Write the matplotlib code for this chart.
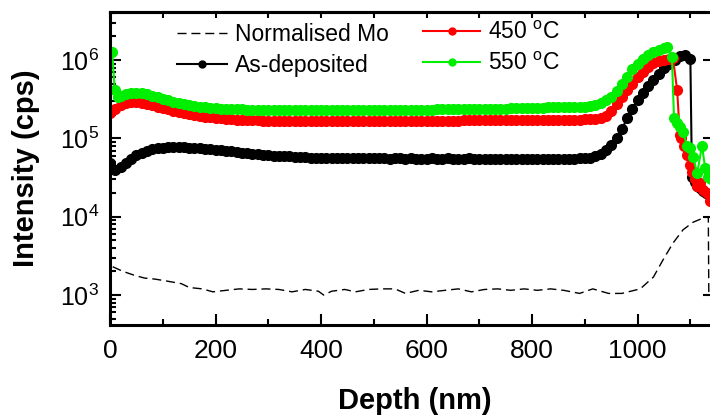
import matplotlib
matplotlib.use('Agg')
import matplotlib.pyplot as plt
from matplotlib.lines import Line2D
from matplotlib.ticker import LogLocator, LogFormatterMathtext, MultipleLocator, NullFormatter, NullLocator

plt.rcParams['font.family'] = ['Liberation Sans', 'DejaVu Sans']
plt.rcParams['mathtext.fontset'] = 'custom'
plt.rcParams['mathtext.rm'] = 'Liberation Sans'
plt.rcParams['mathtext.default'] = 'regular'

# depth grid (nm) for the dense marker series
depth_as = list(range(0, 1101, 10)) + [1103, 1108, 1113, 1118, 1124, 1130, 1136]
as_dep = [  # x 1e4 cps
    4.8, 4.0, 4.3, 4.8, 5.4, 6.1, 6.6, 7.0, 7.3, 7.5,
    7.6, 7.7, 7.7, 7.7, 7.7, 7.6, 7.6, 7.5, 7.4, 7.3,
    7.2, 7.1, 7.0, 6.9, 6.7, 6.6, 6.5, 6.4, 6.3, 6.2,
    6.1, 6.0, 6.0, 5.9, 5.9, 5.8, 5.8, 5.8, 5.7, 5.7,
    5.7, 5.7, 5.7, 5.6, 5.6, 5.7, 5.6, 5.6, 5.6, 5.6,
    5.6, 5.6, 5.6, 5.5, 5.6, 5.6, 5.5, 5.6, 5.5, 5.5,
    5.5, 5.6, 5.5, 5.5, 5.6, 5.5, 5.5, 5.5, 5.6, 5.5,
    5.5, 5.5, 5.4, 5.5, 5.5, 5.5, 5.4, 5.5, 5.5, 5.5,
    5.5, 5.5, 5.5, 5.4, 5.5, 5.5, 5.5, 5.5, 5.5, 5.6,
    5.6, 5.7, 5.9, 6.3, 7.1, 8.3, 10, 13, 18, 24,
    31, 38, 46, 56, 67, 79, 90, 101, 112, 116,
    104,
    3.2, 2.8, 2.5, 2.3, 2.1, 2.0, 1.9,
]

depth_450 = list(range(0, 1061, 10)) + [1067, 1075, 1080, 1083, 1088, 1094, 1100,
                                        1103, 1108, 1113, 1118, 1124, 1132, 1138]
t450 = [  # x 1e5 cps
    2.1, 2.4, 2.65, 2.8, 2.9, 2.9, 2.85, 2.75, 2.65, 2.55,
    2.45, 2.35, 2.25, 2.15, 2.1, 2.05, 2.0, 1.95, 1.9, 1.87,
    1.84, 1.81, 1.78, 1.76, 1.74, 1.72, 1.71, 1.70, 1.70, 1.69,
    1.69, 1.68, 1.68, 1.68, 1.68, 1.67, 1.67, 1.67, 1.67, 1.67,
    1.67, 1.67, 1.67, 1.67, 1.67, 1.67, 1.67, 1.67, 1.68, 1.68,
    1.68, 1.68, 1.68, 1.68, 1.68, 1.68, 1.68, 1.68, 1.68, 1.69,
    1.69, 1.69, 1.69, 1.69, 1.69, 1.69, 1.69, 1.70, 1.70, 1.70,
    1.70, 1.70, 1.70, 1.70, 1.70, 1.70, 1.71, 1.71, 1.71, 1.71,
    1.71, 1.71, 1.72, 1.72, 1.72, 1.72, 1.73, 1.73, 1.73, 1.74,
    1.75, 1.76, 1.78, 1.82, 1.95, 2.25, 2.75, 3.35, 4.1, 5.0,
    6.0, 7.0, 8.1, 9.1, 9.7, 10.0, 10.3,
    10.6, 4.1, 1.1, 1.0, 0.8, 0.62, 0.46,
    0.37, 0.30, 0.25, 0.27, 0.22, 0.20, 0.16,
]

depth_550 = [4, 9, 15] + list(range(20, 1051, 10)) + [1056, 1065, 1069, 1075, 1080, 1086, 1094,
                                                      1100, 1105, 1113, 1122, 1128, 1134, 1139]
t550 = [  # x 1e5 cps
    12.5, 4.1, 3.4,
    3.5, 3.7, 3.8, 3.8, 3.75, 3.65, 3.5, 3.35,
    3.2, 3.05, 2.95, 2.85, 2.75, 2.65, 2.6, 2.55, 2.5, 2.45,
    2.42, 2.4, 2.38, 2.36, 2.35, 2.34, 2.33, 2.32, 2.32, 2.31,
    2.31, 2.30, 2.30, 2.30, 2.30, 2.30, 2.30, 2.30, 2.30, 2.30,
    2.30, 2.30, 2.30, 2.30, 2.30, 2.30, 2.30, 2.30, 2.31, 2.31,
    2.31, 2.31, 2.31, 2.31, 2.32, 2.32, 2.32, 2.32, 2.33, 2.33,
    2.33, 2.33, 2.34, 2.34, 2.34, 2.35, 2.35, 2.35, 2.36, 2.36,
    2.37, 2.37, 2.38, 2.38, 2.39, 2.40, 2.41, 2.42, 2.43, 2.44,
    2.45, 2.46, 2.47, 2.48, 2.49, 2.50, 2.50, 2.51, 2.51, 2.52,
    2.52, 2.58, 2.66, 2.8, 3.05, 3.4, 4.0, 4.9, 6.1, 7.6,
    9.0, 10.4, 11.7, 12.7, 13.6, 14.3,
    14.7, 11.0, 1.8, 1.55, 1.4, 1.2, 0.81,
    0.76, 0.58, 0.36, 0.81, 0.42, 0.32, 0.30,
]

depth_mo = [5, 25, 45, 65, 85, 110, 135, 150, 175, 195, 220, 245, 270, 295, 320, 345,
            370, 395, 405, 420, 445, 465, 490, 515, 540, 560, 585, 610, 635, 660, 685,
            710, 735, 760, 785, 810, 835, 860, 890, 915, 945, 970, 1005, 1030, 1048,
            1067, 1086, 1105, 1124, 1134, 1135]
mo_norm = [2.3, 2.0, 1.8, 1.65, 1.6, 1.5, 1.4, 1.25, 1.2, 1.1, 1.15, 1.2, 1.18, 1.2,
           1.18, 1.1, 1.18, 1.12, 1.0, 1.12, 1.18, 1.1, 1.18, 1.2, 1.2, 1.05, 1.15, 1.1,
           1.15, 1.2, 1.1, 1.18, 1.2, 1.15, 1.2, 1.15, 1.2, 1.15, 1.05, 1.2, 1.05, 1.05,
           1.2, 1.7, 2.8, 4.6, 6.8, 8.5, 9.6, 10.0, 0.95]  # x 1e3 cps

fig = plt.figure(figsize=(7.1, 4.17), dpi=100)
ax = fig.add_axes([0.155, 0.2206, 0.8493, 0.7506])

dash = (0, (6.5, 3.5))
ax.plot(depth_mo, [v * 1e3 for v in mo_norm], color='black', lw=1.0, ls=dash)
ax.plot(depth_as, [v * 1e4 for v in as_dep], color='black', lw=1.5, marker='o', ms=7)
ax.plot(depth_450, [v * 1e5 for v in t450], color='#ff0000', lw=1.5, marker='o', ms=7)
ax.plot(depth_550, [v * 1e5 for v in t550], color='#00ee00', lw=1.5, marker='o', ms=7)

ax.set_yscale('log')
ax.set_xlim(0, 1143)
ax.set_ylim(415, 4.1e6)

ax.xaxis.set_major_locator(MultipleLocator(200))
ax.xaxis.set_minor_locator(MultipleLocator(100))
ax.yaxis.set_major_locator(LogLocator(base=10, numticks=10))
ax.yaxis.set_minor_locator(LogLocator(base=10, subs=range(2, 10), numticks=10))
ax.yaxis.set_major_formatter(LogFormatterMathtext())
ax.yaxis.set_minor_formatter(NullFormatter())

ax.tick_params(which='both', direction='in', top=False, right=False, width=1.5)
ax.tick_params(which='major', length=8)
ax.tick_params(which='minor', length=4)
ax.tick_params(axis='x', which='major', labelsize=19, pad=10)
ax.tick_params(axis='y', which='major', labelsize=18, pad=8)
for s in ax.spines.values():
    s.set_linewidth(2.2)

# short ticks on top, decade ticks on the right
top = ax.secondary_xaxis('top')
top.xaxis.set_major_locator(MultipleLocator(100))
top.tick_params(direction='in', length=4, width=1.5, labeltop=False)
right = ax.secondary_yaxis('right')
right.yaxis.set_major_locator(LogLocator(base=10, numticks=10))
right.yaxis.set_minor_locator(NullLocator())
right.tick_params(direction='in', length=7, width=1.5, labelright=False)
top.spines['top'].set_linewidth(2.2)
right.spines['right'].set_linewidth(2.2)

fig.text(415 / 710, 1 - 401 / 417, 'Depth (nm)', fontsize=21, fontweight='bold',
         ha='center', va='center')
fig.text(26 / 710, 1 - 168 / 417, 'Intensity (cps)', fontsize=21, fontweight='bold',
         ha='center', va='center', rotation=90)

h_mo = Line2D([], [], color='black', lw=1.0, ls=dash)
h_as = Line2D([], [], color='black', lw=1.5, marker='o', ms=5)
h_450 = Line2D([], [], color='#ff0000', lw=1.5, marker='o', ms=5)
h_550 = Line2D([], [], color='#00ee00', lw=1.5, marker='o', ms=5)

fig.legend([h_mo, h_as], ['Normalised Mo', 'As-deposited'],
           loc='upper left', bbox_to_anchor=(177 / 710, 1 - 23 / 417),
           frameon=False, fontsize=16.5, borderpad=0, borderaxespad=0,
           handlelength=2.2, handletextpad=0.35, labelspacing=0.35)
fig.legend([h_450, h_550], ['450 $^{o}$C', '550 $^{o}$C'],
           loc='upper left', bbox_to_anchor=(423 / 710, 1 - 21 / 417),
           frameon=False, fontsize=16.5, borderpad=0, borderaxespad=0,
           handlelength=2.5, handletextpad=0.35, labelspacing=0.35)

fig.savefig('out.png', dpi=100)
